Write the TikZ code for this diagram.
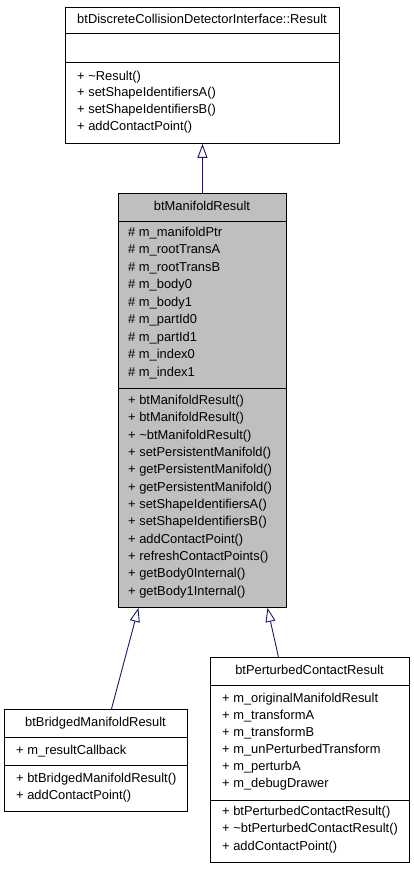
\documentclass[tikz,border=0pt]{standalone}
\usepackage{fontspec}
\setmainfont{Liberation Sans}
\usetikzlibrary{arrows.meta}
\definecolor{edgeblue}{HTML}{191970}
\definecolor{boxgray}{HTML}{BFBFBF}
\begin{document}
\begin{tikzpicture}[x=1pt,y=-1pt,
  box/.style={draw=black,line width=0.9pt,fill=white,inner sep=0pt,anchor=north west},
  sep/.style={draw=black,line width=0.9pt},
  txt/.style={inner sep=0pt,anchor=west,text height=9.3pt,text depth=2.7pt,font=\fontsize{12.9}{15}\selectfont},
  ctxt/.style={txt,anchor=center},
  inh/.style={draw=edgeblue,line width=0.9pt,-{Triangle[open,fill=white,length=14pt,width=10pt]}}]
\useasboundingbox (0,0) rectangle (413,869);
% top box
\node[box,minimum width=274pt,minimum height=136pt] (top) at (65,7) {};
\draw[sep] (65,33) -- (339,33);
\draw[sep] (65,62) -- (339,62);
\node[ctxt] (topT) at (202,20) {btDiscreteCollisionDetectorInterface::Result};
\node[txt] (t1) at (77,77) {+ \textasciitilde Result()};
\node[txt] (t2) at (77,93.5) {+ setShapeIdentifiersA()};
\node[txt] (t3) at (77,110) {+ setShapeIdentifiersB()};
\node[txt] (t4) at (77,127) {+ addContactPoint()};
% middle box
\node[box,fill=boxgray,minimum width=168pt,minimum height=414pt] (mid) at (118,193) {};
\draw[sep] (118,221) -- (286,221);
\draw[sep] (118,388) -- (286,388);
\node[ctxt] (midT) at (202,207) {btManifoldResult};
\foreach \t [count=\i from 0] in {m\_manifoldPtr,m\_rootTransA,m\_rootTransB,m\_body0,m\_body1,m\_partId0,m\_partId1,m\_index0,m\_index1}
  \node[txt] (ma\i) at (128,233+17.5*\i) {\# \t};
\foreach \t [count=\i from 0] in {btManifoldResult(),btManifoldResult(),\textasciitilde btManifoldResult(),setPersistentManifold(),getPersistentManifold(),getPersistentManifold(),setShapeIdentifiersA(),setShapeIdentifiersB(),addContactPoint(),refreshContactPoints(),getBody0Internal(),getBody1Internal()}
  \node[txt] (mm\i) at (128,401+17.36*\i) {+ \t};
% bridged box
\node[box,minimum width=183pt,minimum height=102pt] (bridged) at (4,709) {};
\draw[sep] (4,737) -- (187,737);
\draw[sep] (4,765) -- (187,765);
\node[ctxt] (brT) at (95.5,723) {btBridgedManifoldResult};
\node[txt] (b1) at (16,751) {+ m\_resultCallback};
\node[txt] (b2) at (16,779) {+ btBridgedManifoldResult()};
\node[txt] (b3) at (16,796.5) {+ addContactPoint()};
% perturbed box
\node[box,minimum width=199pt,minimum height=205pt] (pert) at (210,657) {};
\draw[sep] (210,685) -- (409,685);
\draw[sep] (210,800) -- (409,800);
\node[ctxt] (peT) at (309.5,671) {btPerturbedContactResult};
\foreach \t [count=\i from 0] in {m\_originalManifoldResult,m\_transformA,m\_transformB,m\_unPerturbedTransform,m\_perturbA,m\_debugDrawer}
  \node[txt] (pa\i) at (222,699+17.1*\i) {+ \t};
\node[txt] (pm0) at (222,812) {+ btPerturbedContactResult()};
\node[txt] (pm1) at (222,829.5) {+ \textasciitilde btPerturbedContactResult()};
\node[txt] (pm2) at (222,847) {+ addContactPoint()};
% inheritance
\draw[inh] (mid.north) -- (top.south);
\draw[inh] ([xshift=15.5pt]bridged.north) -- ([xshift=-64pt]mid.south);
\draw[inh] ([xshift=-31.5pt]pert.north) -- ([xshift=65pt]mid.south);
\end{tikzpicture}
\end{document}
